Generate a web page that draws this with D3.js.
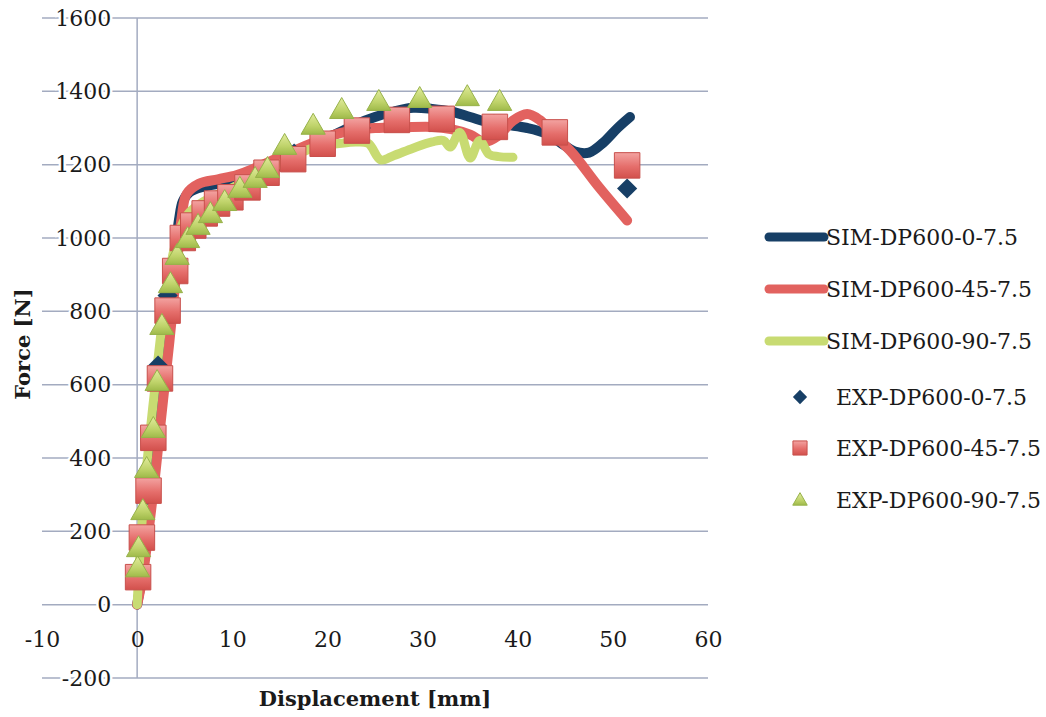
<!DOCTYPE html>
<html>
<head>
<meta charset="utf-8">
<script src="https://cdn.jsdelivr.net/npm/d3@7"></script>
<style>
body { margin: 0; background: #fff; }
text { font-family: "DejaVu Serif", serif; fill: #1a1a1a; }
</style>
</head>
<body>
<svg id="chart" width="1046" height="717"></svg>
<script>
// simulated curves [displacement mm, force N]
var sim0 = [[0,0],[0.5,80],[1,200],[1.5,330],[2,470],[2.5,600],[3,720],[3.5,840],[4,960],[4.4,1050],[4.8,1100],[5.5,1125],[7,1140],[9,1150],[11,1165],[13,1185],[15,1210],[17,1235],[19,1260],[21,1285],[23,1310],[25,1330],[27,1345],[29,1355],[31,1352],[33,1345],[35,1330],[37,1315],[39,1308],[41,1300],[43,1285],[44.5,1260],[46,1236],[47.5,1233],[49,1260],[50.5,1300],[51.8,1330]];
var sim45 = [[0,0],[0.6,80],[1.2,200],[1.8,330],[2.4,480],[2.9,600],[3.4,720],[3.9,850],[4.3,960],[4.7,1060],[5.2,1120],[6.5,1148],[8.5,1160],[10.5,1172],[12.5,1192],[14.5,1215],[16.5,1238],[18.5,1260],[20.5,1280],[22.5,1293],[25,1300],[28,1302],[31,1303],[33,1297],[35,1282],[36.5,1262],[38,1280],[39.5,1320],[41,1338],[42.3,1322],[43.7,1285],[45.8,1230],[48.5,1140],[51.5,1048]];
var sim90 = [[0,0],[0.2,100],[0.5,220],[0.9,350],[1.4,480],[1.9,600],[2.5,740],[3.1,860],[3.8,960],[4.6,1030],[5.5,1070],[7,1100],[9,1125],[11,1150],[13,1175],[15,1200],[17,1230],[19,1250],[21,1257],[23,1262],[24.3,1258],[25.6,1213],[27,1225],[29,1245],[31,1262],[32.2,1266],[32.9,1248],[33.9,1288],[35,1218],[36,1266],[37,1228],[38,1222],[39.5,1220]];

// experimental points
var exp0 = [[0.1,70],[0.5,180],[1.1,300],[1.7,450],[2.2,652],[3.2,843],[4.1,920],[4.9,1005],[6,1040],[7.2,1070],[8.5,1095],[10,1115],[12,1150],[14,1185],[16.5,1230],[19.5,1265],[23.5,1300],[27.5,1325],[32,1330],[37.5,1310],[44,1290],[51.5,1135]];
var exp45 = [[0.1,75],[0.5,183],[1.2,311],[1.7,455],[2.4,617],[3.2,802],[4.0,910],[4.8,1000],[5.9,1034],[7.1,1067],[8.4,1094],[9.8,1111],[11.6,1138],[13.6,1178],[16.4,1215],[19.5,1257],[23.1,1293],[27.3,1322],[32,1325],[37.6,1303],[43.9,1288],[51.5,1198]];
var exp90 = [[0.05,95],[0.15,150],[0.6,251],[1.0,366],[1.7,475],[2.1,603],[2.6,756],[3.5,870],[4.2,947],[5.3,993],[6.4,1029],[7.7,1061],[9.2,1094],[10.8,1130],[12.4,1157],[13.7,1184],[15.5,1247],[18.5,1302],[21.5,1345],[25.4,1367],[29.7,1375],[34.7,1380],[38.1,1367]];

var xTicks = [-10, 0, 10, 20, 30, 40, 50, 60];
var yTicks = [-200, 0, 200, 400, 600, 800, 1000, 1200, 1400, 1600];
var legendNames = ["SIM-DP600-0-7.5", "SIM-DP600-45-7.5", "SIM-DP600-90-7.5", "EXP-DP600-0-7.5", "EXP-DP600-45-7.5", "EXP-DP600-90-7.5"];

var navy = "#173f66", red = "#e2625f", green = "#c8db72", grid = "#a3abc0";

var svg = d3.select("#chart");
var x = d3.scaleLinear().domain([-10, 60]).range([42, 708]);
var y = d3.scaleLinear().domain([-200, 1600]).range([678, 18]);
var fmt = d => String(d);

var defs = svg.append("defs");
var g1 = defs.append("linearGradient").attr("id", "sq").attr("x1", 0).attr("y1", 0).attr("x2", 0).attr("y2", 1);
g1.append("stop").attr("offset", "0%").attr("stop-color", "#f3a3a1");
g1.append("stop").attr("offset", "55%").attr("stop-color", "#e56e6b");
g1.append("stop").attr("offset", "100%").attr("stop-color", "#d2504c");
var g2 = defs.append("linearGradient").attr("id", "tri").attr("x1", 0).attr("y1", 0).attr("x2", 0).attr("y2", 1);
g2.append("stop").attr("offset", "0%").attr("stop-color", "#e2ec9e");
g2.append("stop").attr("offset", "60%").attr("stop-color", "#bfd36a");
g2.append("stop").attr("offset", "100%").attr("stop-color", "#9fba4a");

// horizontal gridlines
svg.append("g").selectAll("line").data(yTicks).join("line")
  .attr("x1", x(-10)).attr("x2", x(60))
  .attr("y1", d => y(d)).attr("y2", d => y(d))
  .attr("stroke", grid).attr("stroke-width", 1.5);

// vertical axis at x = 0
svg.append("line").attr("x1", x(0)).attr("x2", x(0)).attr("y1", y(1600)).attr("y2", y(-200))
  .attr("stroke", grid).attr("stroke-width", 1.5);

// y tick labels
var yAxis = svg.append("g").attr("transform", "translate(" + x(0) + ",0)")
  .call(d3.axisLeft(y).tickValues(yTicks).tickFormat(fmt).tickSize(0).tickPadding(26));
yAxis.select(".domain").remove();
yAxis.selectAll("text").style("font-size", "22px").attr("fill", "#1a1a1a")
  .attr("stroke", "#fff").attr("stroke-width", 5).attr("paint-order", "stroke");

// x tick labels
var xAxis = svg.append("g").attr("transform", "translate(0," + y(0) + ")")
  .call(d3.axisBottom(x).tickValues(xTicks).tickFormat(fmt).tickSize(0).tickPadding(27));
xAxis.select(".domain").remove();
xAxis.selectAll("text").style("font-size", "22px").attr("fill", "#1a1a1a");

// axis titles
svg.append("text").attr("x", 375).attr("y", 706).attr("text-anchor", "middle")
  .style("font-size", "21px").style("font-weight", "bold").text("Displacement [mm]");
svg.append("text").attr("transform", "translate(30,344) rotate(-90)").attr("text-anchor", "middle")
  .style("font-size", "21px").style("font-weight", "bold").text("Force [N]");

var line = d3.line().x(d => x(d[0])).y(d => y(d[1])).curve(d3.curveCatmullRom.alpha(0.5));

svg.append("path").datum(sim0).attr("d", line).attr("fill", "none")
  .attr("stroke", navy).attr("stroke-width", 10).attr("stroke-linecap", "round").attr("stroke-linejoin", "round");
svg.append("path").datum(sim45).attr("d", line).attr("fill", "none")
  .attr("stroke", red).attr("stroke-width", 10).attr("stroke-linecap", "round").attr("stroke-linejoin", "round");
svg.append("path").datum(sim90).attr("d", line).attr("fill", "none")
  .attr("stroke", green).attr("stroke-width", 9).attr("stroke-linecap", "round").attr("stroke-linejoin", "round");

var diamond = d3.symbol().type(d3.symbolDiamond2).size(260);
var square = d3.symbol().type(d3.symbolSquare).size(650);
var triangle = d3.symbol().type(d3.symbolTriangle2).size(420);

svg.append("g").selectAll("path").data(exp0).join("path")
  .attr("transform", d => "translate(" + x(d[0]) + "," + y(d[1]) + ")")
  .attr("d", diamond).attr("fill", navy);
svg.append("g").selectAll("path").data(exp45).join("path")
  .attr("transform", d => "translate(" + x(d[0]) + "," + y(d[1]) + ")")
  .attr("d", square).attr("fill", "url(#sq)").attr("stroke", "#c8504c").attr("stroke-width", 1);
svg.append("g").selectAll("path").data(exp90).join("path")
  .attr("transform", d => "translate(" + x(d[0]) + "," + y(d[1]) + ")")
  .attr("d", triangle).attr("fill", "url(#tri)").attr("stroke", "#97b24a").attr("stroke-width", 1);

// legend
var leg = svg.append("g");
var ly = [237, 289, 341, 397, 448, 500];
var lineCols = [navy, red, green];
lineCols.forEach(function(c, i) {
  leg.append("line").attr("x1", 769).attr("x2", 824).attr("y1", ly[i]).attr("y2", ly[i])
    .attr("stroke", c).attr("stroke-width", 9).attr("stroke-linecap", "round");
  leg.append("text").attr("x", 826).attr("y", ly[i]).attr("dy", "0.36em")
    .style("font-size", "22px").text(legendNames[i]);
});
leg.append("path").attr("transform", "translate(800," + ly[3] + ")")
  .attr("d", d3.symbol().type(d3.symbolDiamond2).size(130)).attr("fill", navy);
leg.append("path").attr("transform", "translate(800," + ly[4] + ")")
  .attr("d", d3.symbol().type(d3.symbolSquare).size(200)).attr("fill", "url(#sq)").attr("stroke", "#c8504c");
leg.append("path").attr("transform", "translate(800," + (ly[5] + 1) + ")")
  .attr("d", d3.symbol().type(d3.symbolTriangle2).size(150)).attr("fill", "url(#tri)").attr("stroke", "#97b24a");
[3, 4, 5].forEach(function(i) {
  leg.append("text").attr("x", 836).attr("y", ly[i]).attr("dy", "0.36em")
    .style("font-size", "22px").text(legendNames[i]);
});
</script>
</body>
</html>
